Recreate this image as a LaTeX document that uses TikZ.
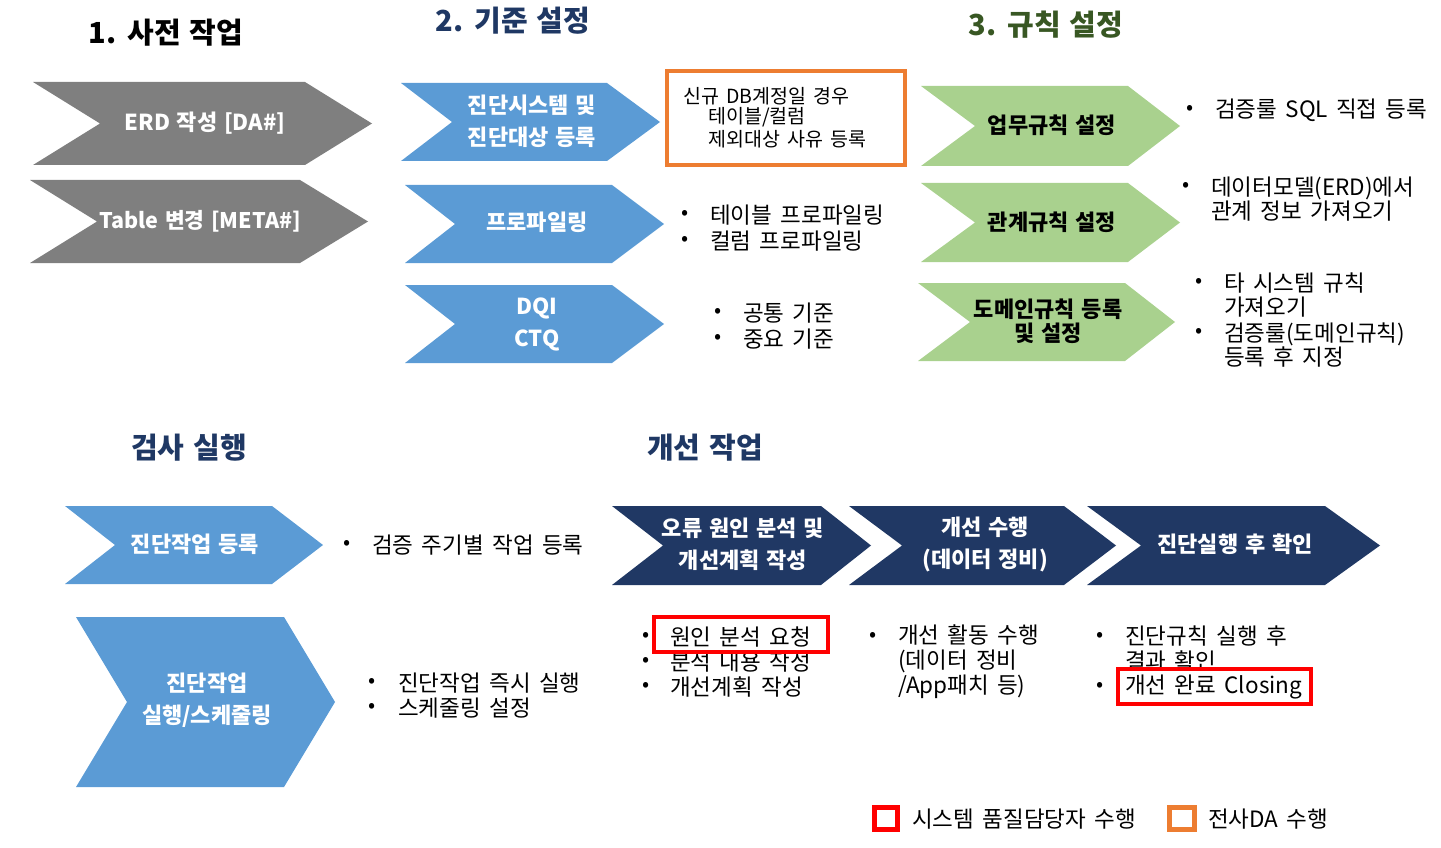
\documentclass[tikz,border=0pt]{standalone}
\usepackage{fontspec}
\setmainfont{Noto Sans CJK KR}[UprightFeatures={WordSpace=1.65}, BoldFeatures={WordSpace=1.35}]
\definecolor{cgray}{HTML}{7F7F7F}
\definecolor{cblue}{HTML}{5B9BD5}
\definecolor{cgreen}{HTML}{A9D18E}
\definecolor{cnavy}{HTML}{203864}
\definecolor{tnavy}{HTML}{1F3864}
\definecolor{tgreen}{HTML}{385723}
\definecolor{corange}{HTML}{ED7D31}
\definecolor{cred}{HTML}{FF0000}
\newcommand\chevshape[7]{\fill[#1] (#2,#6) -- (#3,#6) -- (#4,{(#6+#7)/2}) -- (#3,#7) -- (#2,#7) -- (#5,{(#6+#7)/2}) -- cycle;}
\tikzset{
  ttl/.style={font=\bfseries\fontsize{29}{32}\selectfont, inner sep=0},
  wlbl/.style={text=white, font=\bfseries\fontsize{22}{32}\selectfont, align=center, inner sep=0},
  blbl/.style={text=black, font=\bfseries\fontsize{22}{24}\selectfont, align=center, inner sep=0},
  txt/.style={anchor=west, font=\fontsize{22.5}{25}\selectfont, align=left, inner sep=0},
  small/.style={anchor=west, font=\fontsize{19.5}{21}\selectfont, inner sep=0},
  bul/.style={font=\fontsize{21}{25}\selectfont, inner sep=0},
  hibox/.style={draw=cred, line width=3.5pt},
  legbox/.style={line width=5pt}
}
\begin{document}
\begin{tikzpicture}[x=1pt,y=-1pt]
\useasboundingbox (0,0) rectangle (1441,848);
% titles
\node[ttl, text=black] (t1) at (166,33) {1. 사전 작업};
\node[ttl, text=tnavy] (t2) at (513,21) {2. 기준 설정};
\node[ttl, text=tgreen] (t3) at (1046,25) {3. 규칙 설정};
\node[ttl, text=tnavy] (t4) at (189,448) {검사 실행};
\node[ttl, text=tnavy] (t5) at (705,448) {개선 작업};
% column 1
\chevshape{cgray}{33}{305}{372}{100}{82}{165}
\node[wlbl] (erd) at (205,123) {ERD 작성 [DA\#]};
\chevshape{cgray}{30}{300}{368}{97}{180}{263}
\node[wlbl, font=\bfseries\fontsize{21.5}{32}\selectfont] (tbl) at (200,221) {Table 변경 [META\#]};
% column 2
\chevshape{cblue}{401}{607}{660}{452}{83}{161}
\node[wlbl] (b1) at (532,121) {진단시스템 및\\진단대상 등록};
\chevshape{cblue}{405}{612}{664}{455}{185}{263}
\node[wlbl] (b2) at (537,222) {프로파일링};
\chevshape{cblue}{405}{612}{664}{455}{285}{363}
\node[wlbl] (b3) at (537,324) {DQI\\CTQ};
\draw[draw=corange, line width=4pt] (667,71) rectangle (905,165);
\node[small] (o1) at (683,96) {신규 DB계정일 경우};
\node[small] (o2) at (708,117) {테이블/컬럼};
\node[small] (o3) at (708,139) {제외대상 사유 등록};
\node[bul] (pb1) at (685,215) {•};
\node[txt] (p1) at (710,215) {테이블 프로파일링};
\node[bul] (pb2) at (685,241) {•};
\node[txt] (p2) at (710,241) {컬럼 프로파일링};
\node[bul] (qb1) at (718,313) {•};
\node[txt] (q1) at (743,313) {공통 기준};
\node[bul] (qb2) at (718,339) {•};
\node[txt] (q2) at (743,339) {중요 기준};
% column 3
\chevshape{cgreen}{921}{1128}{1180}{975}{86}{166}
\node[blbl] (g1) at (1052,125) {업무규칙 설정};
\chevshape{cgreen}{921}{1128}{1180}{975}{183}{262}
\node[blbl] (g2) at (1052,222) {관계규칙 설정};
\chevshape{cgreen}{918}{1125}{1175}{970}{283}{361}
\node[blbl] (g3) at (1048,321) {도메인규칙 등록\\및 설정};
\node[bul] (rb1) at (1190,110) {•};
\node[txt] (r1) at (1215,110) {검증룰 SQL 직접 등록};
\node[bul] (rb2) at (1186,187) {•};
\node[txt, font=\fontsize{22.5}{24}\selectfont] (r2) at (1211,199) {데이터모델(ERD)에서\\관계 정보 가져오기};
\node[bul] (rb3) at (1199,283) {•};
\node[txt, font=\fontsize{22.5}{24}\selectfont] (r3) at (1224,295) {타 시스템 규칙\\가져오기};
\node[bul] (rb4) at (1199,333) {•};
\node[txt, font=\fontsize{22.5}{24}\selectfont] (r4) at (1224,345) {검증룰(도메인규칙)\\등록 후 지정};
% bottom left
\chevshape{cblue}{65}{272}{323}{115}{506}{584}
\node[wlbl] (c1) at (195,544) {진단작업 등록};
\chevshape{cblue}{76}{284}{335}{127}{617}{787}
\node[wlbl] (c2) at (207,700) {진단작업\\실행/스케줄링};
\node[bul] (sb1) at (347,545) {•};
\node[txt] (s1) at (372,545) {검증 주기별 작업 등록};
\node[bul] (sb2) at (372,683) {•};
\node[txt] (s2) at (398,683) {진단작업 즉시 실행};
\node[bul] (sb3) at (372,708) {•};
\node[txt] (s3) at (398,708) {스케줄링 설정};
% bottom right
\chevshape{cnavy}{612}{821}{871}{663}{506}{585}
\node[wlbl] (n1) at (743,544) {오류 원인 분석 및\\개선계획 작성};
\chevshape{cnavy}{849}{1064}{1116}{902}{506}{585}
\node[wlbl] (n2) at (985,544) {개선 수행\\(데이터 정비)};
\chevshape{cnavy}{1087}{1325}{1380}{1141}{506}{585}
\node[wlbl] (n3) at (1235,544) {진단실행 후 확인};
\node[bul] (ub1) at (646,637) {•};
\node[txt] (u1) at (670,637) {원인 분석 요청};
\node[bul] (ub2) at (646,662) {•};
\node[txt] (u2) at (670,662) {분석 내용 작성};
\node[bul] (ub3) at (646,687) {•};
\node[txt] (u3) at (670,687) {개선계획 작성};
\node[bul] (vb1) at (873,637) {•};
\node[txt] (v1) at (898,662) {개선 활동 수행\\(데이터 정비\\/App패치 등)};
\node[bul] (wb1) at (1100,637) {•};
\node[txt] (w1) at (1125,649) {진단규칙 실행 후\\결과 확인};
\node[bul] (wb2) at (1100,687) {•};
\node[txt] (w2) at (1125,687) {개선 완료 Closing};
\draw[hibox] (654,617) rectangle (828,652);
\draw[hibox] (1118,669) rectangle (1311,704);
% legend
\draw[legbox, draw=cred] (874,807) rectangle (897,829);
\node[txt] (l1) at (912,819) {시스템 품질담당자 수행};
\draw[legbox, draw=corange] (1169,807) rectangle (1194,829);
\node[txt] (l2) at (1208,819) {전사DA 수행};
\end{tikzpicture}
\end{document}
